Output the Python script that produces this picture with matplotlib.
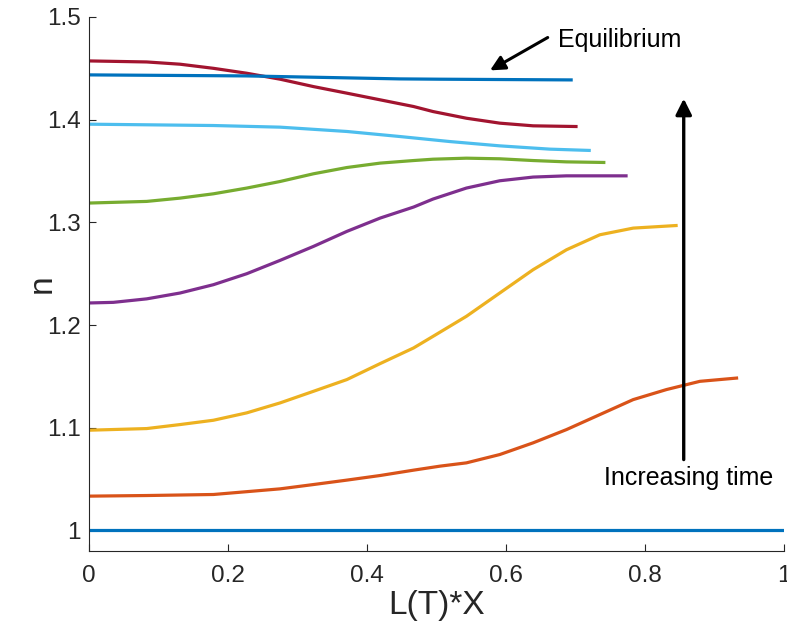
import numpy as np
import matplotlib.pyplot as plt

plt.rcParams['font.family'] = ['Liberation Sans', 'DejaVu Sans']

# Perfiles n(x) a distintos tiempos, de t=0 hasta el equilibrio
x0 = [0.0, 1.0]
n0 = [1.0, 1.0]

x1 = [0.0, 0.083, 0.179, 0.275, 0.323, 0.371, 0.419, 0.467, 0.505, 0.543, 0.591, 0.639,
      0.687, 0.735, 0.783, 0.831, 0.879, 0.934]
n1 = [1.0334, 1.034, 1.035, 1.0405, 1.0447, 1.049, 1.0535, 1.0587, 1.0626, 1.0658, 1.0739,
      1.0853, 1.0982, 1.1128, 1.1274, 1.1372, 1.1452, 1.1485]

x2 = [0.0, 0.083, 0.131, 0.179, 0.227, 0.275, 0.323, 0.371, 0.419, 0.467, 0.495, 0.543,
      0.591, 0.639, 0.687, 0.735, 0.783, 0.847]
n2 = [1.0976, 1.0992, 1.1031, 1.1073, 1.1145, 1.1242, 1.1355, 1.1469, 1.1625, 1.1777, 1.189,
      1.2085, 1.2312, 1.2539, 1.2733, 1.2879, 1.2944, 1.297]

x3 = [0.0, 0.035, 0.083, 0.131, 0.179, 0.227, 0.275, 0.323, 0.371, 0.419, 0.467, 0.495,
      0.543, 0.591, 0.639, 0.687, 0.775]
n3 = [1.2215, 1.2221, 1.2255, 1.2312, 1.2393, 1.250, 1.263, 1.2766, 1.2912, 1.3042, 1.3149,
      1.3227, 1.3334, 1.3405, 1.3441, 1.3453, 1.3453]

x4 = [0.0, 0.083, 0.131, 0.179, 0.227, 0.275, 0.323, 0.371, 0.419, 0.467, 0.495, 0.543,
      0.591, 0.639, 0.687, 0.743]
n4 = [1.3188, 1.3204, 1.3236, 1.3278, 1.3334, 1.3398, 1.3473, 1.3534, 1.3577, 1.3602, 1.3615,
      1.3625, 1.3619, 1.3602, 1.3589, 1.3583]

x5 = [0.0, 0.083, 0.179, 0.275, 0.371, 0.447, 0.519, 0.591, 0.663, 0.722]
n5 = [1.3956, 1.395, 1.3943, 1.3927, 1.3885, 1.3836, 1.3787, 1.3745, 1.3713, 1.370]

x6 = [0.0, 0.083, 0.131, 0.179, 0.227, 0.275, 0.323, 0.371, 0.419, 0.467, 0.495, 0.543,
      0.591, 0.639, 0.703]
n6 = [1.4572, 1.4562, 1.454, 1.450, 1.4452, 1.4394, 1.4322, 1.4258, 1.4193, 1.4128, 1.4079,
      1.4014, 1.3966, 1.394, 1.3933]

# equilibrio
xe = [0.0, 0.227, 0.447, 0.505, 0.696]
ne = [1.4436, 1.4426, 1.4397, 1.4394, 1.4387]

colores = ['#0072BD', '#D95319', '#EDB120', '#7E2F8E', '#77AC30', '#4DBEEE', '#A2142F', '#0072BD']
perfiles = [(x0, n0), (x1, n1), (x2, n2), (x3, n3), (x4, n4), (x5, n5), (x6, n6), (xe, ne)]

fig = plt.figure(figsize=(7.87, 6.38), dpi=100)
ax = fig.add_axes([0.1131, 0.1364, 0.8831, 0.8370])

for (x, n), c in zip(perfiles, colores):
    ax.plot(x, n, color=c, linewidth=2.3, solid_capstyle='butt', solid_joinstyle='round')

ax.set_xlim(0, 1)
ax.set_ylim(0.98, 1.5)
ax.set_xticks([0, 0.2, 0.4, 0.6, 0.8, 1])
ax.set_xticklabels(['0', '0.2', '0.4', '0.6', '0.8', '1'])
ax.set_yticks([1, 1.1, 1.2, 1.3, 1.4, 1.5])
ax.set_yticklabels(['1', '1.1', '1.2', '1.3', '1.4', '1.5'])

gris = '#262626'
for lado in ['top', 'right']:
    ax.spines[lado].set_visible(False)
for lado in ['left', 'bottom']:
    ax.spines[lado].set_color(gris)
    ax.spines[lado].set_linewidth(0.8)
ax.tick_params(direction='in', length=5, width=0.8, colors=gris, labelsize=17.5)
ax.tick_params(axis='x', pad=10)
ax.tick_params(axis='y', pad=6)

ax.set_xlabel('L(T)*X', fontsize=24, color=gris, labelpad=2)
ax.set_ylabel('n', fontsize=24, color=gris, labelpad=-8)

# anotaciones
ax.annotate('', xy=(0.577, 1.448), xytext=(0.660, 1.480),
            arrowprops=dict(arrowstyle='-|>', color='black', lw=2.2,
                            mutation_scale=22, shrinkA=0, shrinkB=0))
ax.text(0.675, 1.4776, 'Equilibrium', fontsize=18, va='center', ha='left', color='black')

ax.annotate('', xy=(0.8557, 1.4205), xytext=(0.8557, 1.069),
            arrowprops=dict(arrowstyle='-|>', color='black', lw=2.4,
                            mutation_scale=24, shrinkA=0, shrinkB=0))
ax.text(0.8623, 1.0506, 'Increasing time', fontsize=18, va='center', ha='center', color='black')

fig.savefig('out.png', dpi=100)
